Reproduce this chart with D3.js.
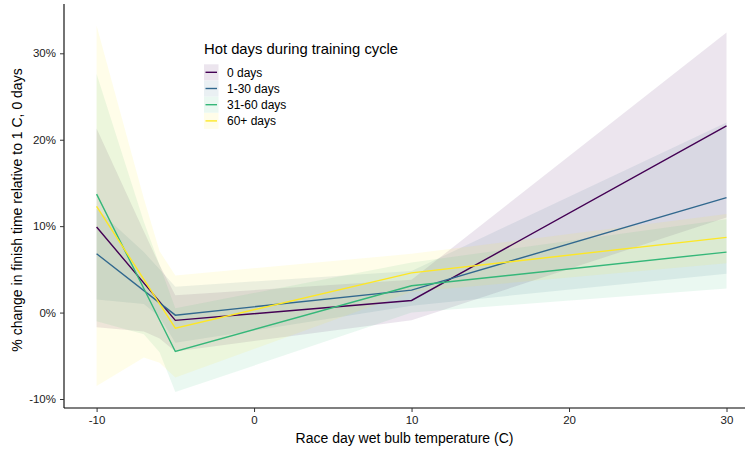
<!DOCTYPE html>
<html>
<head>
<meta charset="utf-8">
<script src="https://cdn.jsdelivr.net/npm/d3@7"></script>
<style>
  body { margin: 0; background: #fff; }
  text { font-family: "Liberation Sans", Arial, sans-serif; }
</style>
</head>
<body>
<div id="chart"></div>
<script>
const groups = ['0 days', '1-30 days', '31-60 days', '60+ days']
const colors = ['#440154', '#31688E', '#35B779', '#FDE725']

// fitted lines (% change) at the temperature knots
const lineTemps = [-10, -5, 10, 30]
const lineValues = [
  [9.9, -0.9, 1.4, 21.6],
  [6.8, -0.3, 2.6, 13.3],
  [13.7, -4.5, 3.1, 7.0],
  [12.3, -1.8, 4.6, 8.7],
]

// confidence ribbons
const bandTemps = [-10, -7, -6, -5, 10, 30]
const bandLow = [
  [-1.7, -2.2, -3.0, -4.5, -0.9, 11.0],
  [1.5, 1.0, -0.5, -3.5, 0.8, 4.5],
  [-1.0, -2.5, -4.6, -9.2, 0.0, 2.8],
  [-8.5, -5.2, -5.8, -7.5, 2.4, 5.7],
]
const bandHigh = [
  [21.3, 9.4, 5.5, 2.0, 3.8, 32.4],
  [12.0, 7.0, 5.0, 3.0, 4.8, 22.0],
  [27.6, 10.5, 5.5, 0.5, 5.8, 10.8],
  [33.2, 13.2, 7.1, 4.3, 6.8, 11.4],
]

const xTicks = [-10, 0, 10, 20, 30]
const yTicks = [-10, 0, 10, 20, 30]

const WIDTH = 746
const HEIGHT = 451
const PANEL = { LEFT: 64, RIGHT: 745, TOP: 4, BOTTOM: 408 }

const svg = d3.select('#chart').append('svg')
  .attr('width', WIDTH)
  .attr('height', HEIGHT)

const x = d3.scaleLinear().domain([-10, 30]).range([96.6, 726.5])
const y = d3.scaleLinear().domain([-10, 30]).range([399, 53.3])

// ribbons
const area = d3.area()
  .x(d => x(d.t))
  .y0(d => y(d.lo))
  .y1(d => y(d.hi))

groups.forEach((g, i) => {
  const pts = bandTemps.map((t, j) => ({ t: t, lo: bandLow[i][j], hi: bandHigh[i][j] }))
  svg.append('path')
    .attr('d', area(pts))
    .attr('fill', colors[i])
    .attr('fill-opacity', 0.1)
})

// lines
const line = d3.line()
  .x(d => x(d.t))
  .y(d => y(d.v))

groups.forEach((g, i) => {
  const pts = lineTemps.map((t, j) => ({ t: t, v: lineValues[i][j] }))
  svg.append('path')
    .attr('d', line(pts))
    .attr('fill', 'none')
    .attr('stroke', colors[i])
    .attr('stroke-width', 1.4)
})

// axes
const xAxis = svg.append('g')
  .attr('transform', `translate(0, ${PANEL.BOTTOM})`)
  .call(d3.axisBottom(x).tickValues(xTicks).tickSize(4).tickPadding(4).tickFormat(d => String(d)))
xAxis.select('.domain').attr('d', `M${PANEL.LEFT},0H${PANEL.RIGHT}`).attr('stroke', '#000').attr('stroke-width', 1.1)
xAxis.selectAll('.tick line').attr('stroke', '#333')
xAxis.selectAll('.tick text').attr('fill', '#1a1a1a').style('font-size', '11.5px')

const yAxis = svg.append('g')
  .attr('transform', `translate(${PANEL.LEFT}, 0)`)
  .call(d3.axisLeft(y).tickValues(yTicks).tickSize(4).tickPadding(4).tickFormat(d => d + '%'))
yAxis.select('.domain').attr('d', `M0,${PANEL.TOP}V${PANEL.BOTTOM}`).attr('stroke', '#000').attr('stroke-width', 1.1)
yAxis.selectAll('.tick line').attr('stroke', '#333')
yAxis.selectAll('.tick text').attr('fill', '#1a1a1a').style('font-size', '11.5px')

// axis titles
svg.append('text')
  .attr('x', (PANEL.LEFT + PANEL.RIGHT) / 2)
  .attr('y', 443)
  .attr('text-anchor', 'middle')
  .style('font-size', '14px')
  .attr('fill', '#000')
  .text('Race day wet bulb temperature (C)')

svg.append('text')
  .attr('transform', `translate(22, 210) rotate(-90)`)
  .attr('text-anchor', 'middle')
  .style('font-size', '14px')
  .attr('fill', '#000')
  .text('% change in finish time relative to 1 C, 0 days')

// legend
const legend = svg.append('g').attr('transform', 'translate(204, 0)')
legend.append('text')
  .attr('x', 0)
  .attr('y', 54)
  .style('font-size', '14.8px')
  .attr('fill', '#000')
  .text('Hot days during training cycle')

groups.forEach((g, i) => {
  const cy = 72.3 + i * 16.2
  legend.append('rect')
    .attr('x', 0)
    .attr('y', cy - 8)
    .attr('width', 14.5)
    .attr('height', 16)
    .attr('fill', colors[i])
    .attr('fill-opacity', 0.1)
  legend.append('line')
    .attr('x1', 1.5)
    .attr('x2', 13)
    .attr('y1', cy)
    .attr('y2', cy)
    .attr('stroke', colors[i])
    .attr('stroke-width', 1.4)
  legend.append('text')
    .attr('x', 23)
    .attr('y', cy + 4.2)
    .style('font-size', '12px')
    .attr('fill', '#000')
    .text(g)
})
</script>
</body>
</html>
